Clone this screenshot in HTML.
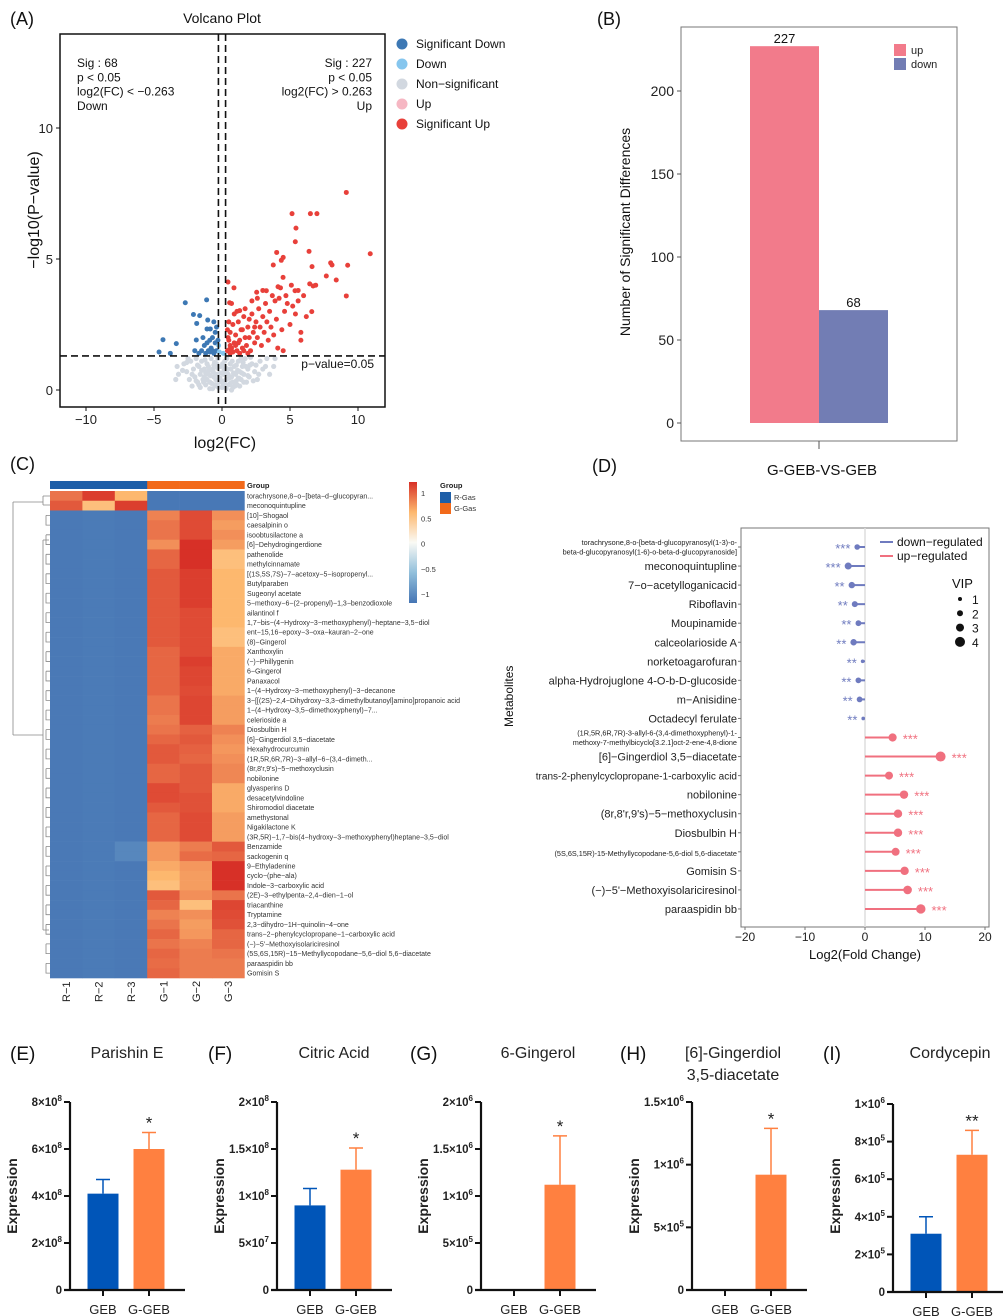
<!DOCTYPE html>
<html><head><meta charset="utf-8"><style>
html,body{margin:0;padding:0;background:#fff;}
svg{display:block;font-family:"Liberation Sans",Arial,sans-serif;}
</style></head><body>
<svg id="fig" width="1003" height="1316" viewBox="0 0 1003 1316" xmlns="http://www.w3.org/2000/svg">
<g font-size="18" fill="#111">
<text x="10" y="25">(A)</text>
<text x="597" y="25">(B)</text>
<text x="10" y="470">(C)</text>
<text x="592" y="472">(D)</text>
</g>
<g id="gA"></g>
<g id="gB"></g>
<g id="gC"></g>
<g id="gD"></g>
<g id="gE"></g>
</svg>
<script>
const NS="http://www.w3.org/2000/svg";
function mk(parent,tag,attrs,text){const e=document.createElementNS(NS,tag);for(const k in attrs)e.setAttribute(k,attrs[k]);if(text!==undefined)e.textContent=text;parent.appendChild(e);return e;}

/* ---------- Panel A data ---------- */
const volcXTicks=[-10,-5,0,5,10];
const volcYTicks=[0,5,10];
const sigUp=[[9.14,7.54],[5.15,6.73],[6.5,6.73],[6.98,6.73],[5.44,6.18],[5.39,5.66],[10.9,5.2],[6.4,5.29],[4.02,5.25],[4.5,5.06],[4.36,4.95],[3.77,4.77],[7.99,4.85],[8.09,4.77],[9.24,4.76],[6.62,4.71],[4.49,4.3],[7.67,4.35],[8.4,4.2],[0.44,4.12],[0.88,3.9],[6.45,4.05],[6.89,4.0],[6.7,3.97],[4.12,3.94],[3.26,3.79],[2.55,3.73],[5.37,3.79],[9.14,3.59],[0.56,3.33],[1.3,3.03],[6.6,2.99],
[0.4,1.5],[0.5,1.9],[0.6,2.2],[0.7,1.6],[0.8,2.5],[0.9,1.8],[1.0,2.1],[1.1,1.5],[1.2,2.6],[1.3,1.9],[1.4,2.3],[1.5,1.6],[1.6,2.8],[1.7,2.0],[1.8,1.7],[1.9,2.4],[2.0,2.0],[2.1,1.5],[2.2,2.9],[2.3,2.2],[2.4,1.8],[2.5,2.6],[2.6,2.0],[2.7,3.1],[2.8,2.4],[2.9,1.7],[3.0,2.8],[3.1,2.2],[3.2,3.3],[3.3,2.6],[3.4,1.9],[3.5,3.0],[3.6,2.4],[3.8,2.1],[3.9,3.4],[4.0,2.7],[4.1,1.6],[4.2,3.5],[4.4,2.3],[4.6,3.0],[4.8,3.3],[5.0,2.5],[5.2,3.2],[5.4,2.9],[5.6,3.8],[5.8,2.2],[6.0,3.6],[6.2,2.8],[0.5,2.6],[0.6,1.4],[0.9,2.9],[1.1,3.0],[1.3,1.4],[1.5,2.3],[1.9,1.4],[2.2,3.4],[0.7,3.3],[1.7,3.1],[2.6,3.5],[3.0,3.8],[3.7,3.6],[4.3,3.9],[4.7,3.6],[5.1,4.0],[5.6,3.4],[5.8,1.9],[4.5,1.5],[2.0,2.7],[1.0,1.7],[0.45,2.0],[0.8,1.45],[0.6,1.7],[1.2,1.8],[0.4,2.3],[1.6,1.5],[2.4,2.4],[0.55,1.55]];
const sigDown=[[-2.7,3.33],[-1.13,3.44],[-2.1,2.88],[-1.64,2.84],[-1.86,2.54],[-1.05,2.67],[-4.34,1.92],[-3.36,1.77],[-4.63,1.45],[-3.8,1.4],[-1.89,1.91],[-1.1,2.33],[-0.86,2.33],[-0.4,1.5],[-0.5,1.8],[-0.6,1.4],[-0.7,2.0],[-0.8,1.6],[-0.9,1.9],[-1.0,1.5],[-1.1,1.8],[-1.2,1.4],[-1.3,1.7],[-1.5,1.5],[-1.7,1.4],[-0.5,2.2],[-0.4,2.4],[-0.6,2.6],[-1.4,2.0],[-2.0,1.5],[-0.3,1.9],[-0.7,1.5],[-0.9,1.45]];
const downPts=[[-0.2,1.45],[0.1,1.4],[-0.25,1.7]];
const nonSig=[[-3.3,0.9],[-3.2,0.6],[-2.8,1.0],[-2.6,0.7],[-2.4,0.4],[-2.3,1.1],[-2.1,0.8],[-2.0,0.5],[-1.9,1.2],[-1.8,0.3],[-1.7,0.9],[-1.6,0.6],[-1.5,1.1],[-1.4,0.4],[-1.3,0.8],[-1.2,0.2],[-1.1,1.0],[-1.0,0.6],[-0.9,0.3],[-0.8,1.2],[-0.7,0.8],[-0.6,0.5],[-0.5,0.2],[-0.4,1.0],[-0.3,0.6],[-0.2,0.3],[-0.1,0.9],[0.0,0.1],[0.1,0.6],[0.2,1.1],[0.3,0.4],[0.4,0.8],[0.5,0.2],[0.6,1.0],[0.7,0.5],[0.8,0.3],[0.9,0.9],[1.0,0.6],[1.1,0.2],[1.2,1.1],[1.3,0.7],[1.4,0.4],[1.5,0.9],[1.6,0.6],[1.7,1.2],[1.8,0.3],[1.9,0.8],[2.0,0.5],[2.2,1.0],[2.4,0.7],[2.6,0.4],[2.8,1.1],[3.0,0.8],[3.3,1.2],[3.5,0.6],[3.8,0.9],[3.9,1.2],[-1.6,0.1],[-0.9,0.05],[-0.4,0.15],[0.3,0.05],[0.8,0.1],[1.3,0.15],[-2.2,0.15],[-1.3,0.5],[-0.6,0.95],[0.15,0.75],[0.55,0.45],[1.05,0.35],[-0.15,0.45],[-2.5,1.2],[2.1,1.25],[-0.3,1.2],[0.35,1.2],[-1.0,0.9],[1.4,1.2],
[-2.2,0.6],[-1.9,0.35],[-1.7,0.2],[-1.5,0.75],[-1.25,1.15],[-1.1,0.4],[-0.95,0.75],[-0.85,0.55],[-0.75,0.25],[-0.65,0.7],[-0.55,1.05],[-0.45,0.4],[-0.35,0.85],[-0.25,0.1],[-0.15,0.65],[-0.05,0.35],[0.05,1.0],[0.2,0.25],[0.25,0.85],[0.45,0.6],[0.6,0.25],[0.65,0.8],[0.75,1.1],[0.85,0.65],[0.95,0.15],[1.15,0.75],[1.25,0.45],[1.45,0.65],[1.6,0.3],[1.75,0.9],[1.9,0.55],[2.05,0.95],[2.3,0.35],[2.5,0.95],[2.7,0.6],[-2.9,0.75],[-2.6,1.05],[-1.35,0.3],[-0.7,0.05],[0.1,0.2],[0.7,0.0],[1.2,0.45],[-1.8,0.95],[-1.2,0.65],[-0.45,0.6],[0.35,0.65],[1.05,0.95],[1.55,1.05],[3.2,0.9],[-3.4,0.4]];
const legendA=[["Significant Down","#3d78b4"],["Down","#86c6ee"],["Non−significant","#d2d8e0"],["Up","#f6b7c3"],["Significant Up","#e8403a"]];

(function(){
const g=document.getElementById('gA');
const L=60,R=385,T=34,B=407;
const sx=v=>222+v*13.6, sy=v=>390-v*26.2;
mk(g,'text',{x:222,y:23,'text-anchor':'middle','font-size':14,fill:'#111',},'Volcano Plot');
const pts=mk(g,'g',{});
nonSig.forEach(p=>{const c=mk(pts,'circle',{cx:sx(p[0]),cy:sy(p[1]),r:2.6,fill:'#d2d8e0'});});
sigDown.forEach(p=>{const c=mk(pts,'circle',{cx:sx(p[0]),cy:sy(p[1]),r:2.5,fill:'#3d78b4'});});
downPts.forEach(p=>{const c=mk(pts,'circle',{cx:sx(p[0]),cy:sy(p[1]),r:2.5,fill:'#86c6ee'});});
sigUp.forEach(p=>{const c=mk(pts,'circle',{cx:sx(p[0]),cy:sy(p[1]),r:2.5,fill:'#e8403a'});});
const yt=sy(-Math.log10(0.05));
mk(g,'line',{x1:L,x2:R,y1:yt,y2:yt,stroke:'#111','stroke-width':1.6,'stroke-dasharray':'7,4',});
[-0.263,0.263].forEach(v=>mk(g,'line',{x1:sx(v),x2:sx(v),y1:T,y2:B,stroke:'#111','stroke-width':1.6,'stroke-dasharray':'7,4',}));
mk(g,'rect',{x:L,y:T,width:R-L,height:B-T,fill:'none',stroke:'#111','stroke-width':1.5,});
volcXTicks.forEach(v=>{mk(g,'line',{x1:sx(v),x2:sx(v),y1:B,y2:B+4,stroke:'#111'});mk(g,'text',{x:sx(v),y:424,'text-anchor':'middle','font-size':13,fill:'#222',},v<0?'−'+Math.abs(v):v);});
volcYTicks.forEach(v=>{mk(g,'line',{x1:L-4,x2:L,y1:sy(v),y2:sy(v),stroke:'#111'});mk(g,'text',{x:L-7,y:sy(v)+5,'text-anchor':'end','font-size':13,fill:'#222',},v);});
mk(g,'text',{x:225,y:448,'text-anchor':'middle','font-size':16,fill:'#111',},'log2(FC)');
mk(g,'text',{x:0,y:0,transform:'translate(39,210) rotate(-90)','text-anchor':'middle','font-size':16,fill:'#111',},'−log10(P−value)');
const ann1=['Sig : 68','p < 0.05','log2(FC) < −0.263','Down'];
ann1.forEach((t,i)=>mk(g,'text',{x:77,y:67+i*14.3,'font-size':12,fill:'#111',},t));
const ann2=['Sig : 227','p < 0.05','log2(FC) > 0.263','Up'];
ann2.forEach((t,i)=>mk(g,'text',{x:372,y:67+i*14.3,'text-anchor':'end','font-size':12,fill:'#111',},t));
mk(g,'text',{x:374,y:368,'text-anchor':'end','font-size':12,fill:'#111',},'p−value=0.05');
legendA.forEach((l,i)=>{mk(g,'circle',{cx:402,cy:44+i*20,r:5.5,fill:l[1],});mk(g,'text',{x:416,y:48+i*20,'font-size':12,fill:'#111',},l[0]);});
})();

/* ---------- Panel B data ---------- */
const bCats=['up','down'];
const bVals=[227,68];
const bColors=['#f27b8b','#727db4'];
const bTicks=[0,50,100,150,200];
(function(){
const g=document.getElementById('gB');
const L=681,R=957,T=27,B=441,y0=423,sc=332/200;
const sy=v=>y0-v*sc;
mk(g,'rect',{x:L,y:T,width:R-L,height:B-T,fill:'#fff',stroke:'#777','stroke-width':1,});
bVals.forEach((v,i)=>{const x=750+i*69;
 const r=mk(g,'rect',{x:x,y:sy(v),width:69,height:y0-sy(v),fill:bColors[i]});
 mk(g,'text',{x:x+34.5,y:sy(v)-3,'text-anchor':'middle','font-size':13,fill:'#111',},v);});
bTicks.forEach(v=>{mk(g,'line',{x1:L-4,x2:L,y1:sy(v),y2:sy(v),stroke:'#555'});mk(g,'text',{x:L-7,y:sy(v)+5,'text-anchor':'end','font-size':14,fill:'#222',},v);});
mk(g,'line',{x1:819,x2:819,y1:B,y2:B+8,stroke:'#555'});
mk(g,'text',{x:822,y:475,'text-anchor':'middle','font-size':15,fill:'#111',},'G-GEB-VS-GEB');
mk(g,'text',{x:0,y:0,transform:'translate(630,232) rotate(-90)','text-anchor':'middle','font-size':14,fill:'#111',},'Number of Significant Differences');
bCats.forEach((c,i)=>{mk(g,'rect',{x:894,y:44+i*14,width:12,height:12,fill:bColors[i],});mk(g,'text',{x:911,y:54+i*14,'font-size':11,fill:'#222',},c);});
})();

/* ---------- Panel C data ---------- */
const hmCols=['R−1','R−2','R−3','G−1','G−2','G−3'];
const hmRows=['torachrysone,8−o−[beta−d−glucopyran...','meconoquintupline','[10]−Shogaol','caesalpinin o','isoobtusilactone a','[6]−Dehydrogingerdione','pathenolide','methylcinnamate','[(1S,5S,7S)−7−acetoxy−5−isopropenyl...','Butylparaben','Sugeonyl acetate','5−methoxy−6−(2−propenyl)−1,3−benzodioxole','ailantinol f','1,7−bis−(4−Hydroxy−3−methoxyphenyl)−heptane−3,5−diol','ent−15,16−epoxy−3−oxa−kauran−2−one','(8)−Gingerol','Xanthoxylin','(−)−Phillygenin','6−Gingerol','Panaxacol','1−(4−Hydroxy−3−methoxyphenyl)−3−decanone','3−[[(2S)−2,4−Dihydroxy−3,3−dimethylbutanoyl]amino]propanoic acid','1−(4−Hydroxy−3,5−dimethoxyphenyl)−7...','celerioside a','Diosbulbin H','[6]−Gingerdiol 3,5−diacetate','Hexahydrocurcumin','(1R,5R,6R,7R)−3−allyl−6−(3,4−dimeth...','(8r,8\'r,9\'s)−5−methoxyclusin','nobilonine','glyasperins D','desacetylvindoline','Shiromodiol diacetate','amethystonal','Nigakilactone K','(3R,5R)−1,7−bis(4−hydroxy−3−methoxyphenyl)heptane−3,5−diol','Benzamide','sackogenin q','9−Ethyladenine','cyclo−(phe−ala)','Indole−3−carboxylic acid','(2E)−3−ethylpenta−2,4−dien−1−ol','triacanthine','Tryptamine','2,3−dihydro−1H−quinolin−4−one','trans−2−phenylcyclopropane−1−carboxylic acid','(−)−5\'−Methoxyisolariciresinol','(5S,6S,15R)−15−Methyllycopodane−5,6−diol 5,6−diacetate','paraaspidin bb','Gomisin S'];
const hmR=[[0.75,0.95,0.5],[0.85,0.45,0.95]];
const hmG=[[.7,.9,.65],[.75,.9,.6],[.75,.9,.65],[.65,1,.6],[.8,1,.45],[.8,1,.45],[.85,.95,.5],[.85,.95,.5],[.85,.95,.5],[.85,.95,.5],[.85,.9,.5],[.85,.9,.5],[.85,.9,.45],[.85,.9,.45],[.8,.9,.55],[.8,.95,.55],[.8,.92,.55],[.8,.92,.55],[.8,.9,.55],[.75,.92,.6],[.75,.92,.6],[.72,.92,.6],[.75,.82,.7],[.8,.85,.65],[.85,.82,.62],[.85,.8,.65],[.8,.85,.68],[.8,.85,.68],[.9,.85,.55],[.9,.88,.55],[.85,.88,.55],[.8,.9,.6],[.8,.9,.6],[.8,.9,.6],[.62,.72,.85],[.62,.78,.8],[.55,.62,1],[.5,.6,1],[.45,.6,1],[.85,.65,.75],[.8,.45,.92],[.7,.65,.9],[.75,.6,.88],[.8,.62,.8],[.75,.7,.8],[.8,.72,.75],[.78,.72,.72],[.8,.72,.72]];
const hmLegendTicks=[1,0.5,0,-0.5,-1];
function hmColor(v){
 const stops=[[-1,[69,117,180]],[-0.5,[145,191,219]],[0,[250,250,245]],[0.5,[253,184,110]],[1,[215,48,39]]];
 v=Math.max(-1,Math.min(1,v));
 for(let i=0;i<stops.length-1;i++){const a=stops[i],b=stops[i+1];if(v<=b[0]){const t=(v-a[0])/(b[0]-a[0]);const c=a[1].map((x,k)=>Math.round(x+(b[1][k]-x)*t));return 'rgb('+c.join(',')+')';}}
 return 'rgb(215,48,39)';
}
(function(){
const g=document.getElementById('gC');
const X0=50,CW=32.4,Y0=491,RH=(978-491)/hmRows.length;
hmCols.forEach((c,j)=>{const r=mk(g,'rect',{x:X0+j*CW,y:481,width:CW+0.3,height:8,fill:j<3?'#1f5fa8':'#f26a1b'});});
mk(g,'text',{x:247,y:488,'font-size':7.5,'font-weight':'bold',fill:'#222',},'Group');
hmRows.forEach((name,i)=>{
 let vals;
 if(i<2) vals=hmR[i].concat([-0.98,-0.98,-0.98]);
 else { const gv=hmG[i-2]; vals=[-0.97,-0.96,(i===36||i===37)?-0.88:-0.97].concat(gv); }
 vals.forEach((v,j)=>{const c=mk(g,'rect',{x:X0+j*CW,y:Y0+i*RH,width:CW+0.3,height:RH+0.3,fill:hmColor(v)});});
 mk(g,'text',{x:247,y:Y0+i*RH+RH/2+2.5,'font-size':7,fill:'#333',},name);
});
hmCols.forEach((c,j)=>mk(g,'text',{x:0,y:0,transform:'translate('+(X0+j*CW+CW/2+4)+',1002) rotate(-90)','font-size':11,fill:'#222',},c));
const d=mk(g,'g',{stroke:'#888','stroke-width':0.8,fill:'none',});
mk(d,'path',{d:'M13,502 V735 M13,502 H43 M43,496 V505 M43,496 H50 M43,505 H50 M13,735 H43 M43,540 V930 M43,540 H49 M43,930 H49'});
for(let i=2;i<hmRows.length;i+=2){mk(d,'path',{d:'M46,'+(Y0+i*RH+RH/2)+' H50 M46,'+(Y0+i*RH+RH/2)+' V'+(Y0+(i+1)*RH+RH/2)+' H50'});}
const grad=mk(g,'defs',{});const lg=mk(grad,'linearGradient',{id:'hmgrad',x1:0,y1:0,x2:0,y2:1});
[1,0.5,0,-0.5,-1].forEach((v,i)=>mk(lg,'stop',{offset:(i*25)+'%','stop-color':hmColor(v)}));
mk(g,'rect',{x:409,y:482,width:8,height:121,fill:'url(#hmgrad)',});
hmLegendTicks.forEach((v,i)=>mk(g,'text',{x:421,y:496+i*25.3,'font-size':7.5,fill:'#333',},v<0?'−'+Math.abs(v):v));
mk(g,'text',{x:440,y:488,'font-size':7.5,'font-weight':'bold',fill:'#222',},'Group');
mk(g,'rect',{x:440,y:492,width:11,height:11,fill:'#1f5fa8',});
mk(g,'rect',{x:440,y:503,width:11,height:11,fill:'#f26a1b',});
mk(g,'text',{x:454,y:500,'font-size':7.5,fill:'#333',},'R-Gas');
mk(g,'text',{x:454,y:511,'font-size':7.5,fill:'#333',},'G-Gas');
})();

/* ---------- Panel D data ---------- */
const dNames=[['torachrysone,8-o-[beta-d-glucopyranosyl(1-3)-o-','beta-d-glucopyranosyl(1-6)-o-beta-d-glucopyranoside]'],['meconoquintupline'],['7−o−acetylloganicacid'],['Riboflavin'],['Moupinamide'],['calceolarioside A'],['norketoagarofuran'],['alpha-Hydrojuglone 4-O-b-D-glucoside'],['m−Anisidine'],['Octadecyl ferulate'],['(1R,5R,6R,7R)-3-allyl-6-(3,4-dimethoxyphenyl)-1-','methoxy-7-methylbicyclo[3.2.1]oct-2-ene-4,8-dione'],['[6]−Gingerdiol 3,5−diacetate'],['trans-2-phenylcyclopropane-1-carboxylic acid'],['nobilonine'],['(8r,8\'r,9\'s)−5−methoxyclusin'],['Diosbulbin H'],['(5S,6S,15R)-15-Methyllycopodane-5,6-diol 5,6-diacetate'],['Gomisin S'],['(−)−5\'−Methoxyisolariciresinol'],['paraaspidin bb']];
const dFC=[-1.3,-2.8,-2.2,-1.7,-1.1,-1.9,-0.4,-1.1,-0.9,-0.3,4.6,12.6,4.0,6.5,5.5,5.5,5.1,6.6,7.1,9.3];
const dVIP=[1.8,2.5,2.2,2.0,1.9,2.2,0.8,1.9,1.9,0.8,3.1,4.0,3.0,3.2,3.2,3.2,3.0,3.2,3.3,3.7];
const dSig=['***','***','**','**','**','**','**','**','**','**','***','***','***','***','***','***','***','***','***','***'];
const dXTicks=[-20,-10,0,10,20];
(function(){
const g=document.getElementById('gD');
const L=741,R=989,T=528,B=927;
const sx=v=>865+v*6.0, sy=i=>547+i*19.05;
const rad=v=>1+v*1.0;
mk(g,'rect',{x:L,y:T,width:R-L,height:B-T,fill:'#fff',stroke:'#777','stroke-width':1,});
mk(g,'line',{x1:sx(0),x2:sx(0),y1:T,y2:B,stroke:'#ddd','stroke-width':1.5,});
dFC.forEach((v,i)=>{
 const col=v<0?'#6f7bbf':'#f0707f';
 const l=mk(g,'line',{x1:sx(0),x2:sx(v),y1:sy(i),y2:sy(i),stroke:col,'stroke-width':2});
 const c=mk(g,'circle',{cx:sx(v),cy:sy(i),r:rad(dVIP[i]),fill:col});
 if(v<0) mk(g,'text',{x:sx(v)-rad(dVIP[i])-4,y:sy(i)+6,'text-anchor':'end','font-size':13,fill:col,},dSig[i]);
 else mk(g,'text',{x:sx(v)+rad(dVIP[i])+6,y:sy(i)+6,'font-size':13,fill:col,},dSig[i]);
 mk(g,'line',{x1:L-3,x2:L,y1:sy(i),y2:sy(i),stroke:'#777'});
 const nm=dNames[i];
 if(nm.length===2){nm.forEach((t,k)=>mk(g,'text',{x:737,y:sy(i)-2+k*9.5,'text-anchor':'end','font-size':7.3,fill:'#222',},t));}
 else{const fs=nm[0].length>40?(nm[0].length>46?7.3:10):11;mk(g,'text',{x:737,y:sy(i)+4,'text-anchor':'end','font-size':fs,fill:'#222',},nm[0]);}
});
dXTicks.forEach(v=>{mk(g,'line',{x1:sx(v),x2:sx(v),y1:B,y2:B+3,stroke:'#777'});mk(g,'text',{x:sx(v),y:941,'text-anchor':'middle','font-size':12,fill:'#222',},v<0?'−'+Math.abs(v):v);});
mk(g,'text',{x:865,y:959,'text-anchor':'middle','font-size':13,fill:'#111',},'Log2(Fold Change)');
mk(g,'text',{x:0,y:0,transform:'translate(513,727) rotate(-90)','font-size':12,fill:'#111',},'Metabolites');
[['down−regulated','#6f7bbf'],['up−regulated','#f0707f']].forEach((l,i)=>{mk(g,'line',{x1:880,x2:893,y1:542+i*14,y2:542+i*14,stroke:l[1],'stroke-width':2,});mk(g,'text',{x:897,y:546+i*14,'font-size':12,fill:'#111',},l[0]);});
mk(g,'text',{x:952,y:588,'font-size':13,fill:'#111',},'VIP');
[1,2,3,4].forEach((v,i)=>{mk(g,'circle',{cx:960,cy:599+i*14.3,r:rad(v),fill:'#111',});mk(g,'text',{x:972,y:604+i*14.3,'font-size':12,fill:'#111',},v);});
})();

/* ---------- Panels E–I data ---------- */
const eTitles=[['Parishin E'],['Citric Acid'],['6-Gingerol'],['[6]-Gingerdiol','3,5-diacetate'],['Cordycepin']];
const eLetters=['(E)','(F)','(G)','(H)','(I)'];
const eMax=[8e8,2e8,2e6,1.5e6,1e6];
const eTickVals=[[0,2e8,4e8,6e8,8e8],[0,5e7,1e8,1.5e8,2e8],[0,5e5,1e6,1.5e6,2e6],[0,5e5,1e6,1.5e6],[0,2e5,4e5,6e5,8e5,1e6]];
const eTickLabels=[[['0',''],['2×10','8'],['4×10','8'],['6×10','8'],['8×10','8']],[['0',''],['5×10','7'],['1×10','8'],['1.5×10','8'],['2×10','8']],[['0',''],['5×10','5'],['1×10','6'],['1.5×10','6'],['2×10','6']],[['0',''],['5×10','5'],['1×10','6'],['1.5×10','6']],[['0',''],['2×10','5'],['4×10','5'],['6×10','5'],['8×10','5'],['1×10','6']]];
const eGEB=[4.1e8,0.9e8,0,0,0.31e6];
const eGEBerr=[0.6e8,0.18e8,0,0,0.09e6];
const eGGEB=[6.0e8,1.28e8,1.12e6,0.92e6,0.73e6];
const eGGEBerr=[0.7e8,0.23e8,0.52e6,0.37e6,0.13e6];
const eSig=['*','*','*','*','**'];
(function(){
const g=document.getElementById('gE');
const axX=[70,277,481,692,893];
const letX=[10,208,410,620,823];
const titleOff=[57,57,57,41,57];
eTitles.forEach((tl,k)=>{
 const pg=mk(g,'g',{});
 const ax=axX[k],y0=k===4?1292:1290,yTop=k===4?1104:1102;
 const sc=(y0-yTop)/eMax[k];const sy=v=>y0-v*sc;
 mk(pg,'text',{x:letX[k],y:1060,'font-size':19,fill:'#111',},eLetters[k]);
 tl.forEach((t,i)=>mk(pg,'text',{x:ax+titleOff[k],y:1058+i*22,'text-anchor':'middle','font-size':16,fill:'#222',},t));
 const bw=31,c1=ax+33,c2=ax+79;
 const vals=[eGEB[k],eGGEB[k]],errs=[eGEBerr[k],eGGEBerr[k]],cols=['#0055b8','#ff8040'],cx=[c1,c2],names=['GEB','G-GEB'];
 vals.forEach((v,i)=>{
  if(v>0){
   const r=mk(pg,'rect',{x:cx[i]-bw/2,y:sy(v),width:bw,height:y0-sy(v),fill:cols[i]});
   const e=mk(pg,'path',{d:'M'+cx[i]+','+sy(v)+' V'+sy(v+errs[i])+' M'+(cx[i]-7)+','+sy(v+errs[i])+' H'+(cx[i]+7),stroke:cols[i],'stroke-width':1.5,fill:'none'});
  }
  mk(pg,'line',{x1:cx[i],x2:cx[i],y1:y0,y2:y0+6,stroke:'#111','stroke-width':2});
  mk(pg,'text',{x:cx[i],y:y0+24,'text-anchor':'middle','font-size':13,fill:'#222',},names[i]);
 });
 mk(pg,'text',{x:c2,y:sy(eGGEB[k]+eGGEBerr[k])-4,'text-anchor':'middle','font-size':17,fill:'#222',},eSig[k]);
 mk(pg,'path',{d:'M'+ax+','+yTop+' V'+y0+' M'+(ax-6)+','+y0+' H'+(ax+115),stroke:'#111','stroke-width':2.2,fill:'none',});
 eTickVals[k].forEach((v,i)=>{
  mk(pg,'line',{x1:ax-6,x2:ax,y1:sy(v),y2:sy(v),stroke:'#111','stroke-width':2});
  const t=mk(pg,'text',{x:ax-8,y:sy(v)+4,'text-anchor':'end','font-size':11.5,'font-weight':'bold',fill:'#222',});
  const lab=eTickLabels[k][i];
  mk(t,'tspan',{},lab[0]);
  if(lab[1]){mk(t,'tspan',{dy:-5,'font-size':8},lab[1]);}
 });
 mk(pg,'text',{x:0,y:0,transform:'translate('+(ax-53)+',1196) rotate(-90)','text-anchor':'middle','font-size':14,'font-weight':'bold',fill:'#222',},'Expression');
});
})();
</script>
</body></html>
